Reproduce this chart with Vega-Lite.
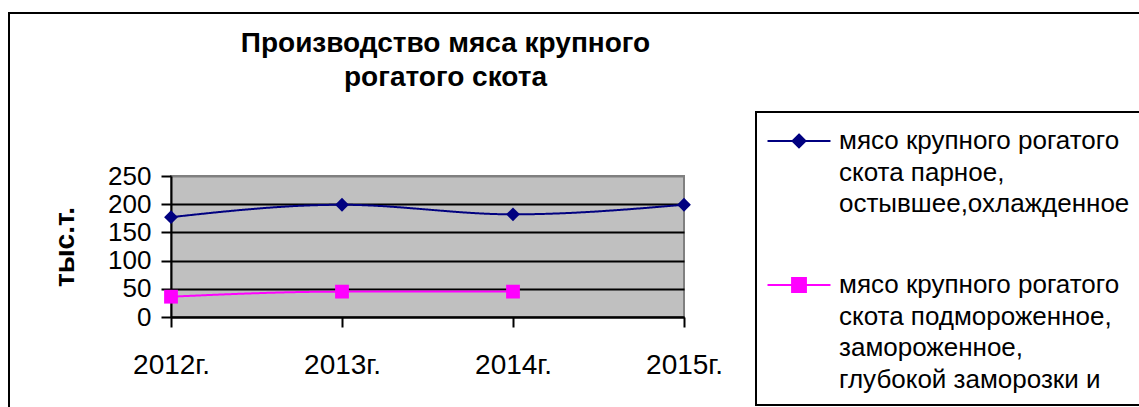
{
  "$schema": "https://vega.github.io/schema/vega-lite/v6.json",
  "width": 513,
  "height": 141,
  "autosize": "none",
  "padding": {"left": 171, "top": 176, "right": 455, "bottom": 90},
  "background": "white",
  "title": {
    "text": ["Производство мяса крупного", "рогатого скота"],
    "font": "Liberation Sans",
    "fontSize": 28,
    "fontWeight": "bold",
    "lineHeight": 34,
    "color": "black",
    "anchor": "middle",
    "frame": "group",
    "dx": 18,
    "dy": 100,
    "offset": 20
  },
  "config": {
    "font": "Liberation Sans",
    "view": {"fill": "#C0C0C0", "stroke": "#808080", "strokeWidth": 2}
  },
  "data": {
    "values": [
      {"year": "2012г.", "series": "мясо крупного рогатого скота парное, остывшее,охлажденное", "value": 177},
      {"year": "2013г.", "series": "мясо крупного рогатого скота парное, остывшее,охлажденное", "value": 199},
      {"year": "2014г.", "series": "мясо крупного рогатого скота парное, остывшее,охлажденное", "value": 182},
      {"year": "2015г.", "series": "мясо крупного рогатого скота парное, остывшее,охлажденное", "value": 199},
      {"year": "2012г.", "series": "мясо крупного рогатого скота подмороженное, замороженное, глубокой заморозки и", "value": 36},
      {"year": "2013г.", "series": "мясо крупного рогатого скота подмороженное, замороженное, глубокой заморозки и", "value": 45},
      {"year": "2014г.", "series": "мясо крупного рогатого скота подмороженное, замороженное, глубокой заморозки и", "value": 45}
    ]
  },
  "encoding": {
    "x": {
      "field": "year",
      "type": "ordinal",
      "scale": {"type": "point", "padding": 0},
      "axis": {
        "title": null,
        "labelAngle": 0,
        "labelFontSize": 28,
        "labelColor": "black",
        "labelPadding": 24,
        "tickSize": 10,
        "tickColor": "black",
        "tickWidth": 2,
        "domainColor": "black",
        "domainWidth": 2,
        "grid": false
      }
    },
    "y": {
      "field": "value",
      "type": "quantitative",
      "scale": {"domain": [0, 250], "nice": false},
      "axis": {
        "title": "тыс.т.",
        "titleFontSize": 28,
        "titleFontWeight": "bold",
        "titleColor": "black",
        "titlePadding": 28,
        "values": [0, 50, 100, 150, 200, 250],
        "labelFontSize": 26,
        "labelColor": "black",
        "labelPadding": 10,
        "tickSize": 10,
        "tickColor": "black",
        "tickWidth": 2,
        "domainColor": "black",
        "domainWidth": 2,
        "grid": true,
        "gridColor": {"condition": {"test": "datum.value === 250", "value": "#808080"}, "value": "black"},
        "gridWidth": 2,
        "gridOpacity": 1
      }
    },
    "color": {
      "field": "series",
      "type": "nominal",
      "scale": {
        "domain": [
          "мясо крупного рогатого скота парное, остывшее,охлажденное",
          "мясо крупного рогатого скота подмороженное, замороженное, глубокой заморозки и"
        ],
        "range": ["#000080", "#FF00FF"]
      },
      "legend": {
        "title": null,
        "orient": "none",
        "legendX": 585,
        "legendY": -64,
        "padding": 12,
        "strokeColor": "black",
        "fillColor": "white",
        "labelFontSize": 26,
        "labelColor": "black",
        "labelLimit": 600,
        "labelOffset": 23,
        "symbolOffset": 14,
        "labelExpr": "indexof(datum.label, 'парное') >= 0 ? ['мясо крупного рогатого', 'скота парное,', 'остывшее,охлажденное'] : ['мясо крупного рогатого', 'скота подмороженное,', 'замороженное,', 'глубокой заморозки и']",
        "symbolSize": 992,
        "symbolStrokeWidth": 2,
        "symbolOpacity": 1,
        "rowPadding": 51,
        "encode": {
          "legend": {"update": {"strokeWidth": {"value": 2}}},
          "labels": {"update": {"lineHeight": {"value": 31.5}}},
          "symbols": {
            "update": {
              "shape": {"signal": "indexof(datum.value, 'парное') >= 0 ? 'M-2,0H2M0,-0.41L0.41,0L0,0.41L-0.41,0Z' : 'M-2,0H2M-0.44,-0.44H0.44V0.44H-0.44Z'"},
              "fill": {"signal": "scale('color', datum.value)"}
            }
          }
        }
      }
    }
  },
  "layer": [
    {
      "mark": {"type": "line", "interpolate": "monotone", "strokeWidth": 2},
      "encoding": {
        "strokeDash": {
          "datum": "frame",
          "scale": {"range": [[1, 0]]},
          "legend": {
            "title": null,
            "orient": "none",
            "legendX": -162,
            "legendY": -163,
            "padding": 700,
            "strokeColor": "black",
            "fillColor": "transparent",
            "symbolOpacity": 0,
            "symbolSize": 1,
            "labelExpr": "''",
            "encode": {"legend": {"update": {"strokeWidth": {"value": 2}}}}
          }
        }
      }
    },
    {
      "mark": {"type": "point", "filled": true, "opacity": 1},
      "encoding": {
        "shape": {
          "field": "series",
          "type": "nominal",
          "scale": {"range": ["diamond", "square"]},
          "legend": null
        },
        "size": {"value": 190}
      }
    }
  ]
}
